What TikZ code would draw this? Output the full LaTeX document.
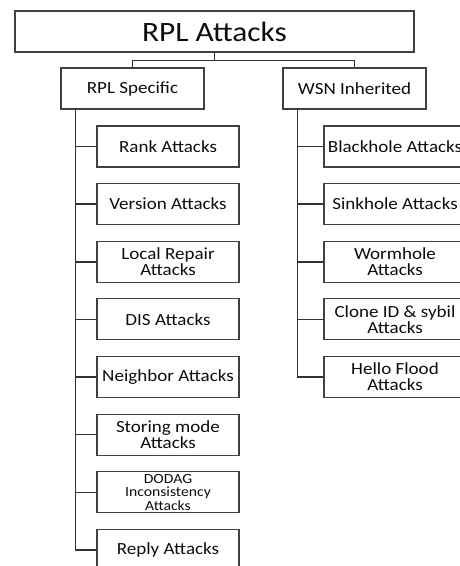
\documentclass[tikz,border=0pt]{standalone}
\usepackage{fontspec}
\setmainfont{Carlito}[FakeStretch=1.12]
\begin{document}
\begin{tikzpicture}[x=1pt,y=-1pt,
  box/.style={draw=black!75, line width=1.1pt, rectangle, inner sep=0pt, align=center,
    minimum width=142pt, minimum height=41pt, text=black!95, font=\fontsize{17}{16}\selectfont},
  small/.style={font=\fontsize{14}{13.5}\selectfont},
  conn/.style={draw=black!80, line width=1.4pt}]
\useasboundingbox (0,0) rectangle (460,566);
\clip (0,0) rectangle (460,566);
\fill[white] (0,0) rectangle (460,566);
\node[box, minimum width=399pt, font=\fontsize{28}{28}\selectfont] (top) at (214.5,31.5) {RPL Attacks};
\node[box, minimum width=143pt] (rs) at (132.5,88.5) {RPL Specific};
\node[box, minimum width=143pt] (wsn) at (354.5,88.5) {WSN Inherited};
\node[box] (rank) at (168,146.5) {Rank Attacks};
\node[box] (ver) at (168,204.1) {Version Attacks};
\node[box] (lr) at (168,261.8) {Local Repair\\Attacks};
\node[box] (dis) at (168,319.4) {DIS Attacks};
\node[box] (nb) at (168,377.1) {Neighbor Attacks};
\node[box] (sm) at (168,434.7) {Storing mode\\Attacks};
\node[box, small] (dod) at (168,492.4) {DODAG\\Inconsistency\\Attacks};
\node[box] (rep) at (168,550) {Reply Attacks};
\node[box] (bh) at (395,146.5) {Blackhole Attacks};
\node[box] (sh) at (395,204.1) {Sinkhole Attacks};
\node[box] (wh) at (395,261.8) {Wormhole\\Attacks};
\node[box] (cl) at (395,319.4) {Clone ID \& sybil\\Attacks};
\node[box] (hf) at (395,377.1) {Hello Flood\\Attacks};
% top connectors
\draw[conn] (top.south) -- ++(0,8) coordinate (hb);
\draw[conn] (rs.north) |- (hb) -| (wsn.north);
% left trunk
\coordinate (lt) at ([xshift=15pt]rs.south west);
\draw[conn] (lt) |- (rep.west);
\foreach \n in {rank,ver,lr,dis,nb,sm,dod}{\draw[conn] (lt |- \n.west) -- (\n.west);}
% right trunk
\coordinate (rt) at ([xshift=15pt]wsn.south west);
\draw[conn] (rt) |- (hf.west);
\foreach \n in {bh,sh,wh,cl}{\draw[conn] (rt |- \n.west) -- (\n.west);}
\end{tikzpicture}
\end{document}
